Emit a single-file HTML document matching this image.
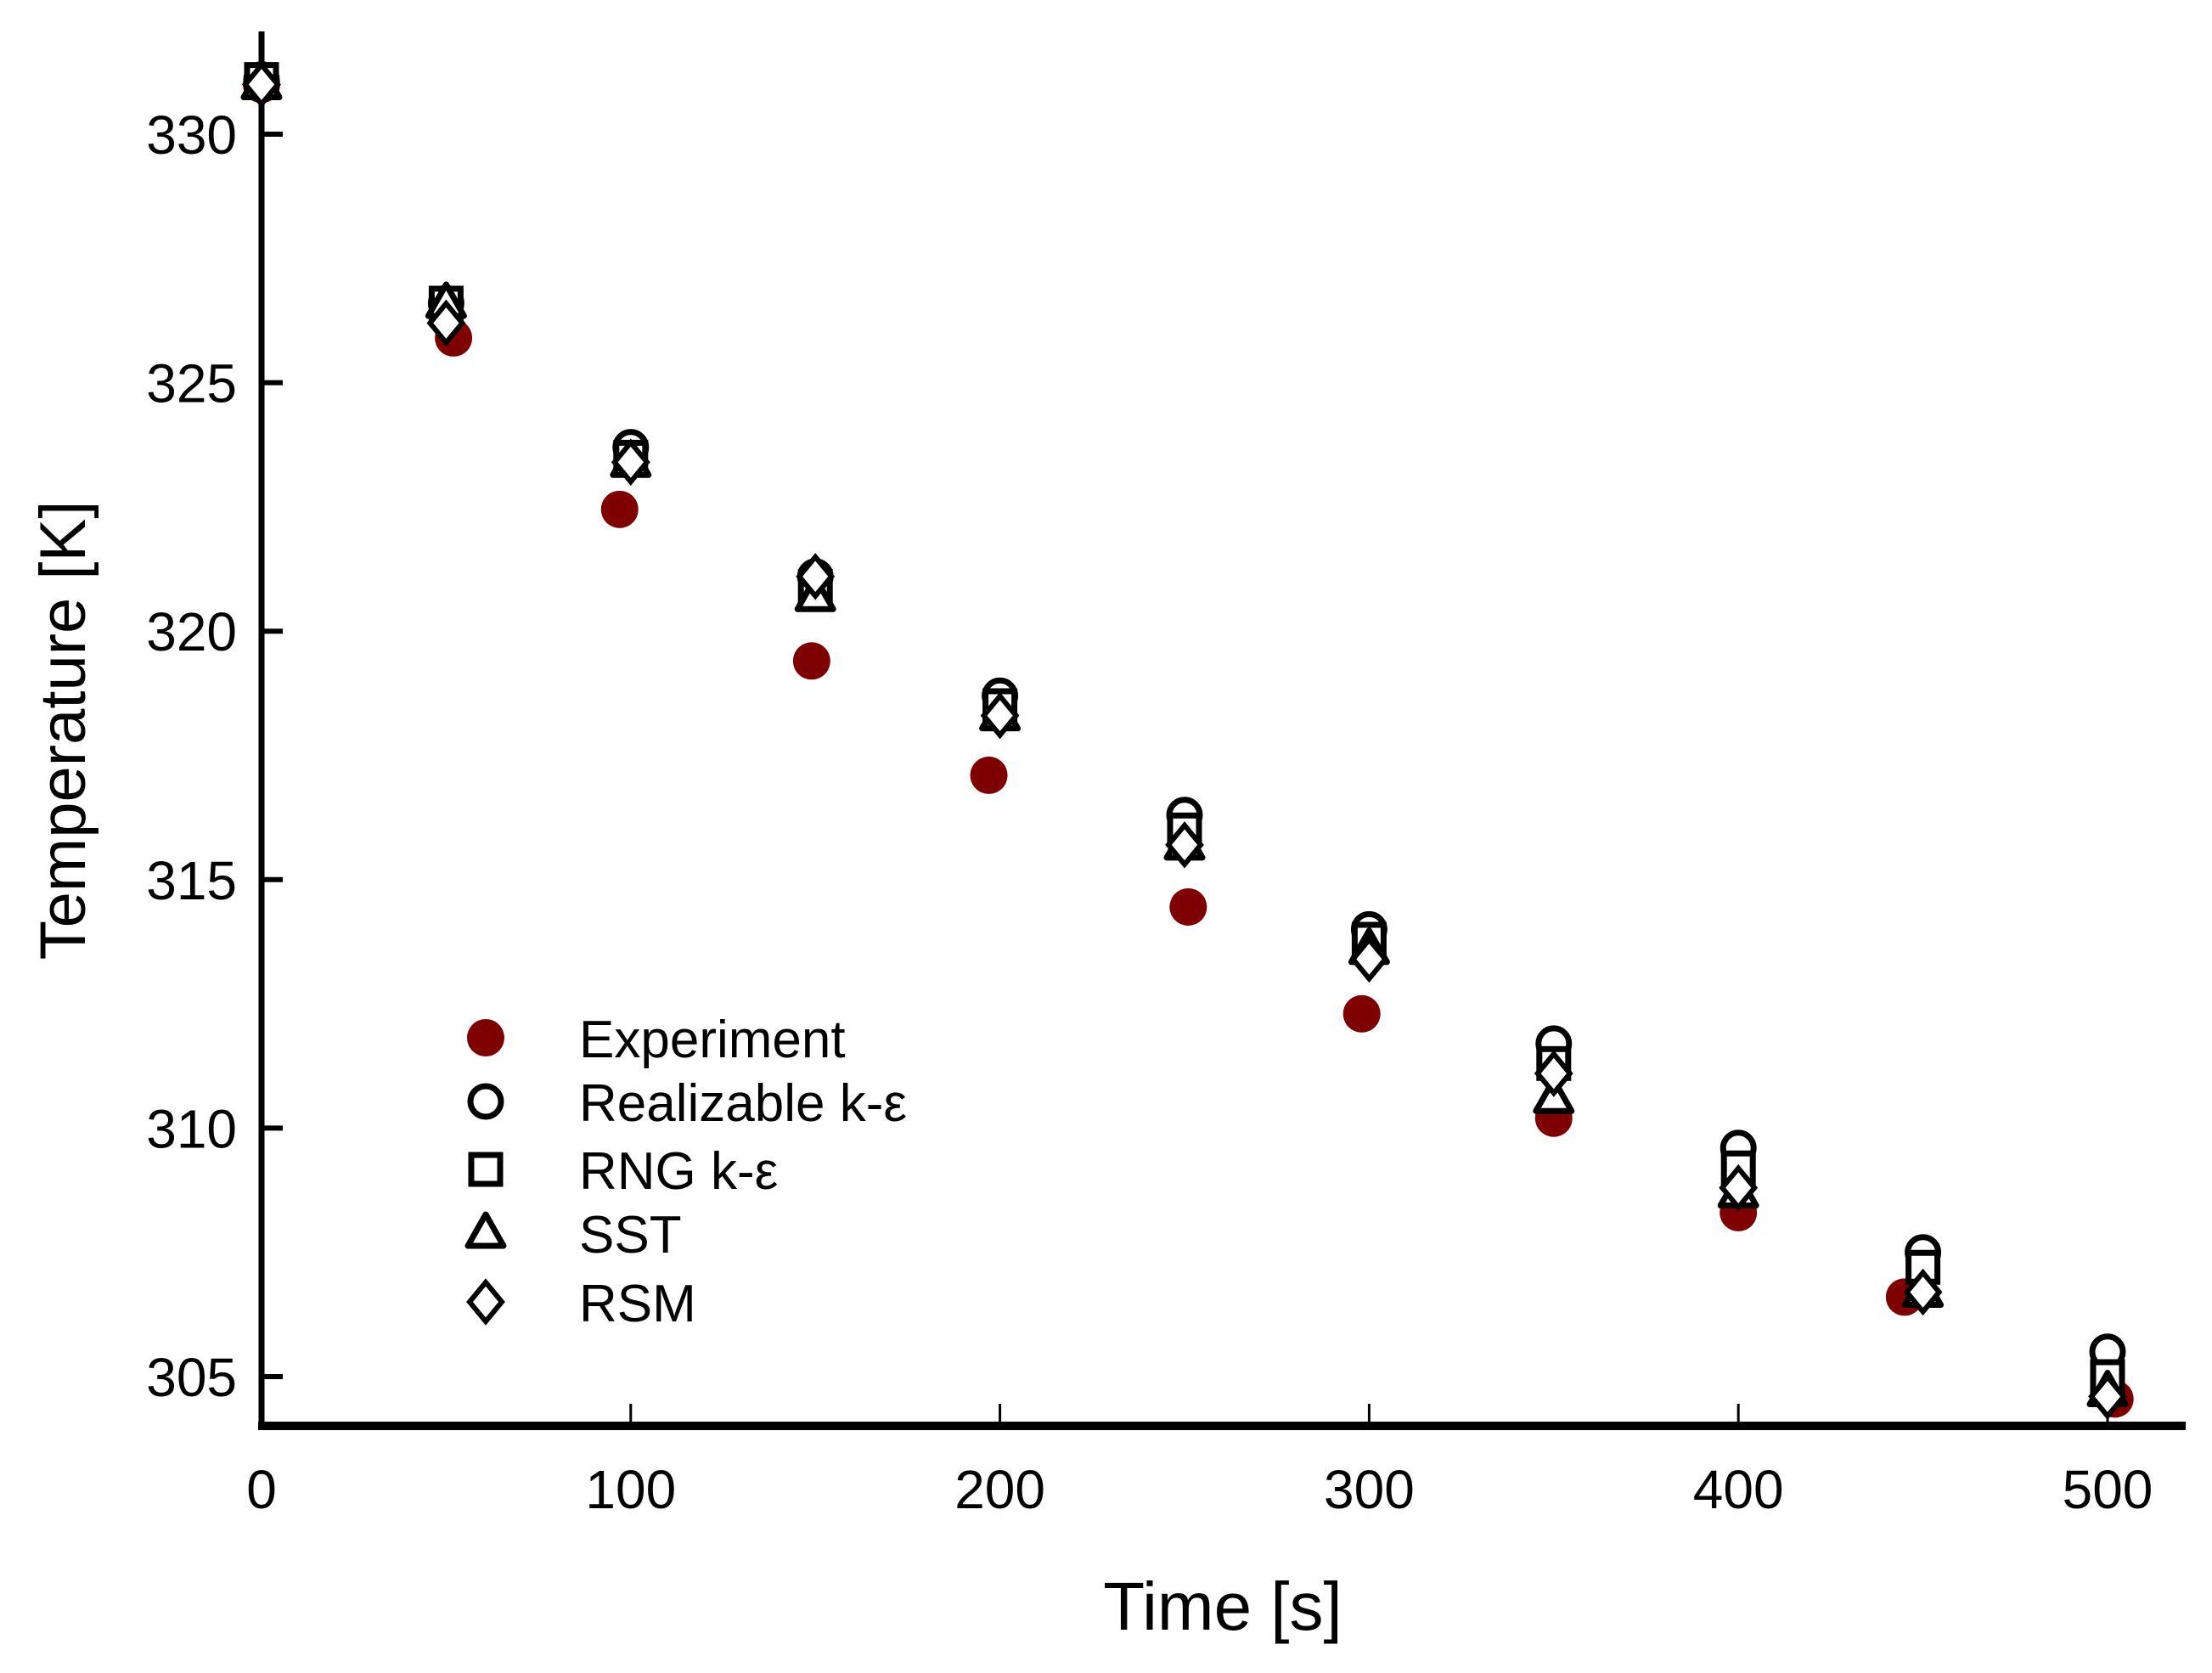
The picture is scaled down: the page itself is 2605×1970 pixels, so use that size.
<!DOCTYPE html>
<html><head><meta charset="utf-8"><style>
html,body{margin:0;padding:0;background:#fff;}
svg{display:block;font-family:"Liberation Sans",Arial,sans-serif;}
</style></head><body>
<svg id="chart" width="2605" height="1970" viewBox="0 0 2605 1970">
<g id="axes"></g>
<g id="marks"></g>
<g id="legend"></g>
<text x="1440" y="1919" font-size="80" text-anchor="middle">Time [s]</text>
<text transform="translate(100,860) rotate(-90)" font-size="76" text-anchor="middle">Temperature [K]</text>
</svg>
<script>
const times = [0,50,100,150,200,250,300,350,400,450,500];
const expTimes = [0,52,97,149,197,251,298,350,400,445,502];
const expVals = [331.0,325.9,322.45,319.4,317.1,314.45,312.3,310.2,308.3,306.6,304.55];
const realVals = [331.1,326.6,323.7,321.1,318.7,316.3,314.0,311.7,309.6,307.5,305.5];
const rngVals = [331.1,326.6,323.5,320.9,318.5,316.0,313.8,311.3,309.2,307.2,305.0];
const sstVals = [331.0,326.6,323.4,320.7,318.3,315.7,313.6,310.6,308.7,306.7,304.7];
const rsmVals = [331.0,326.2,323.4,321.1,318.3,315.7,313.4,311.1,308.8,306.7,304.6];
const xTicks = [0,100,200,300,400,500];
const yTicks = [305,310,315,320,325,330];
const legendLabels = ["Experiment","Realizable k-ε","RNG k-ε","SST","RSM"];

const NS="http://www.w3.org/2000/svg";
function xs(t){return 308+t*4.348;}
function ys(T){return 158+(330-T)*58.52;}
function mk(tag,attrs,parent){const e=document.createElementNS(NS,tag);for(const k in attrs)e.setAttribute(k,attrs[k]);parent.appendChild(e);return e;}
const axes=document.getElementById('axes'),marks=document.getElementById('marks'),legend=document.getElementById('legend');

let e=mk('line',{x1:308,y1:37,x2:308,y2:1684,stroke:'#000','stroke-width':7},axes);


e=mk('line',{x1:304,y1:1679,x2:2574,y2:1679,stroke:'#000','stroke-width':10},axes);


xTicks.forEach(t=>{
 let l=mk('line',{x1:xs(t),y1:1674,x2:xs(t),y2:1653,stroke:'#000','stroke-width':3},axes);
 
 
 let tx=mk('text',{x:xs(t),y:1776,'font-size':64,'text-anchor':'middle'},axes);
 tx.textContent=t;
 
 
});
yTicks.forEach(v=>{
 let l=mk('line',{x1:308,y1:ys(v),x2:333,y2:ys(v),stroke:'#000','stroke-width':6},axes);
 
 
 let tx=mk('text',{x:279,y:ys(v)+23,'font-size':64,'text-anchor':'end'},axes);
 tx.textContent=v;
 
 
});

function marker(type,cx,cy,parent){
 const sw=7;let m;
 if(type==='exp') m=mk('circle',{cx:cx,cy:cy,r:22,fill:'#7f0000'},parent);
 else if(type==='circle') m=mk('circle',{cx:cx,cy:cy,r:18,fill:'#fff',stroke:'#000','stroke-width':sw},parent);
 else if(type==='square') m=mk('rect',{x:cx-17,y:cy-17,width:34,height:34,fill:'#fff',stroke:'#000','stroke-width':sw},parent);
 else if(type==='tri') m=mk('polygon',{points:`${cx},${cy-22} ${cx+21},${cy+15} ${cx-21},${cy+15}`,fill:'#fff',stroke:'#000','stroke-width':sw,'stroke-linejoin':'round'},parent);
 else m=mk('polygon',{points:`${cx},${cy-23} ${cx+19},${cy} ${cx},${cy+23} ${cx-19},${cy}`,fill:'#fff',stroke:'#000','stroke-width':6},parent);
 return m;
}
expTimes.forEach((t,i)=>{const m=marker('exp',xs(t),ys(expVals[i]),marks);
 
 });
const series=[['circle',realVals,'realizable-point'],['square',rngVals,'rng-point'],['tri',sstVals,'sst-point'],['diamond',rsmVals,'rsm-point']];
series.forEach(s=>{times.forEach((t,i)=>{const m=marker(s[0],xs(t),ys(s[1][i]),marks);
 
 });});

const types=['exp','circle','square','tri','diamond'];
const rowY=[1222,1297,1377,1452,1533];
legendLabels.forEach((lab,i)=>{
 const m=marker(types[i],572,rowY[i],legend);
 
 
 const tx=mk('text',{x:682,y:rowY[i]+23,'font-size':62},legend);
 tx.textContent=lab;
 
 
});
</script>
</body></html>
